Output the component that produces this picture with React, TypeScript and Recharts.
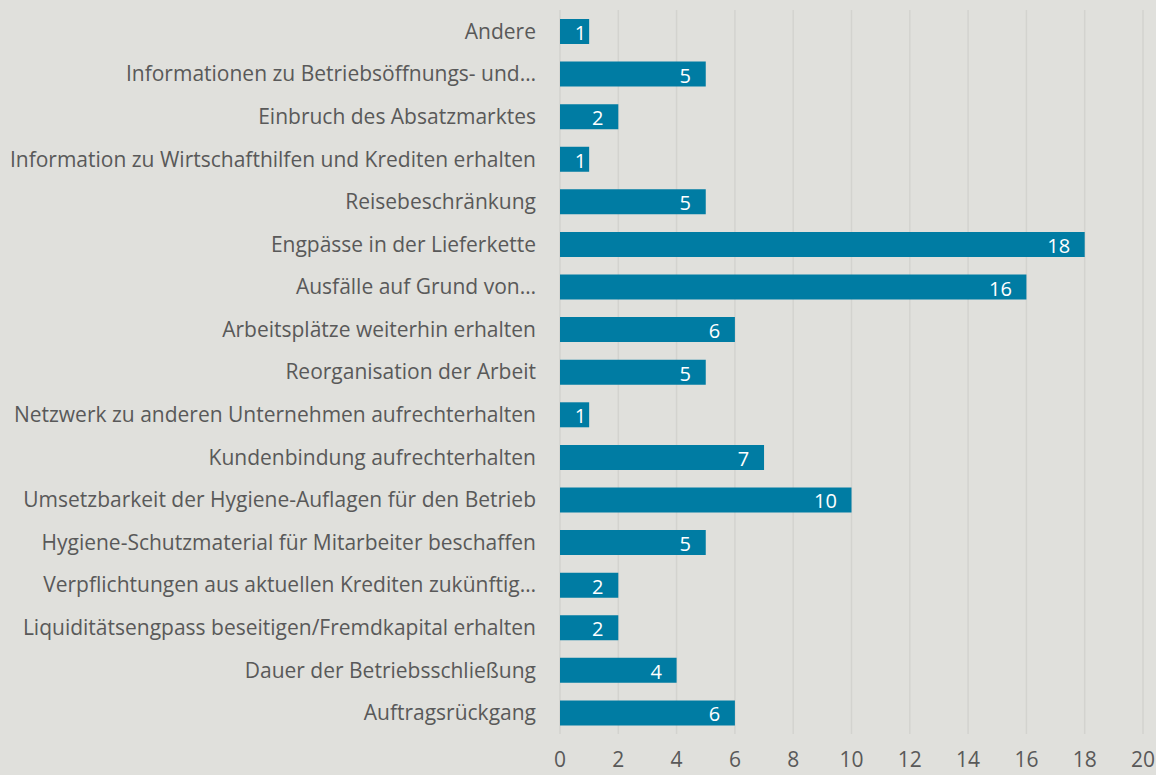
import React from 'react';
import { BarChart, Bar, XAxis, YAxis, CartesianGrid, LabelList } from 'recharts';

const categories = [
  'Andere',
  'Informationen zu Betriebsöffnungs- und…',
  'Einbruch des Absatzmarktes',
  'Information zu Wirtschafthilfen und Krediten erhalten',
  'Reisebeschränkung',
  'Engpässe in der Lieferkette',
  'Ausfälle auf Grund von…',
  'Arbeitsplätze weiterhin erhalten',
  'Reorganisation der Arbeit',
  'Netzwerk zu anderen Unternehmen aufrechterhalten',
  'Kundenbindung aufrechterhalten',
  'Umsetzbarkeit der Hygiene-Auflagen für den Betrieb',
  'Hygiene-Schutzmaterial für Mitarbeiter beschaffen',
  'Verpflichtungen aus aktuellen Krediten zukünftig…',
  'Liquiditätsengpass beseitigen/Fremdkapital erhalten',
  'Dauer der Betriebsschließung',
  'Auftragsrückgang',
];

const counts = [1, 5, 2, 1, 5, 18, 16, 6, 5, 1, 7, 10, 5, 2, 2, 4, 6];

const xTicks = [0, 2, 4, 6, 8, 10, 12, 14, 16, 18, 20];

const data = categories.map((name, i) => ({ name, value: counts[i] }));

const FONT = '"Open Sans", sans-serif';

// Excel-style inside-end label: small bars get the number centred
const renderLabel = (props: any) => {
  const { x, y, width, height, value } = props;
  const end = x + width;
  const text = String(value);
  const tw = text.length * 11;
  const cx = width < 40 ? x + width / 2 + 6 : end - 15 - tw / 2;
  return (
    <text
      x={cx}
      y={y + height / 2 + 1}
      fill="#ffffff"
      fontSize={20}
      fontFamily={FONT}
      textAnchor="middle"
      dominantBaseline="central"
    >
      {text}
    </text>
  );
};

export default function App() {
  return (
    <div style={{ position: 'absolute', left: 0, top: 0, width: 1156, height: 775, background: '#e0e0dc' }}>
      <BarChart
        width={1156}
        height={775}
        data={data}
        layout="vertical"
        margin={{ top: 10, right: 13, bottom: 0, left: 0 }}
        barSize={25}
      >
        <CartesianGrid horizontal={false} stroke="#d3d3cf" strokeWidth={1.5} />
        <XAxis
          type="number"
          domain={[0, 20]}
          ticks={xTicks}
          axisLine={false}
          tickLine={false}
          tickSize={0}
          tickMargin={18}
          height={41}
          tick={{ fill: '#595959', fontSize: 21, fontFamily: FONT }}
          interval={0}
        />
        <YAxis
          type="category"
          dataKey="name"
          width={560}
          axisLine={false}
          tickLine={false}
          tickSize={0}
          tickMargin={24}
          interval={0}
          tick={{ fill: '#595959', fontSize: 21, fontFamily: FONT }}
        />
        <Bar dataKey="value" fill="#007ca3" isAnimationActive={false}>
          <LabelList dataKey="value" content={renderLabel} />
        </Bar>
      </BarChart>
    </div>
  );
}
